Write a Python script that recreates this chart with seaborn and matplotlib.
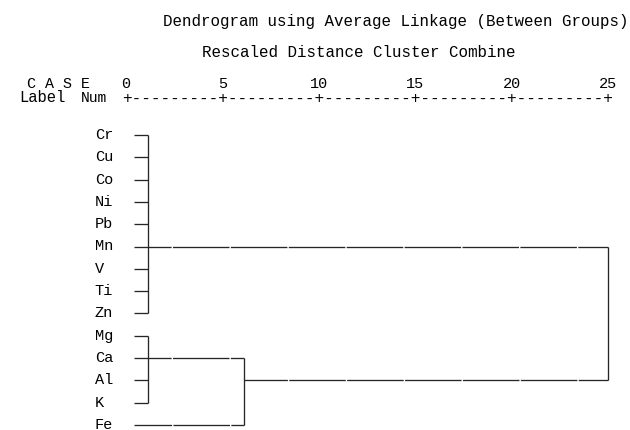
import numpy as np
import pandas as pd
import matplotlib
matplotlib.use("Agg")
import matplotlib.pyplot as plt
import seaborn as sns

# ---------------- data ----------------
labels = ["Cr", "Cu", "Co", "Ni", "Pb", "Mn", "V", "Ti", "Zn", "Mg", "Ca", "Al", "K", "Fe"]
scale_ticks = [0, 5, 10, 15, 20, 25]
merge_names = ["A", "B", "C", "D"]
merge_children = [
    ["Cr", "Cu", "Co", "Ni", "Pb", "Mn", "V", "Ti", "Zn"],
    ["Mg", "Ca", "Al", "K"],
    ["B", "Fe"],
    ["A", "C"],
]
merge_heights = [1.15, 1.15, 6.1, 25.0]
merge_rows = ["Mn", "Ca", "Al", "Mn"]   # row on which each cluster's line leaves
title = "Dendrogram using Average Linkage (Between Groups)"
subtitle = "Rescaled Distance Cluster Combine"
case_text = "C A S E"
label_text = "Label"
num_text = "Num"

# ---------------- layout / style ----------------
W, H, DPI = 630, 430, 100
PXU = 19.3      # pixels per distance unit
X0PX = 126      # pixel x of distance 0
Y0PX = 135      # pixel y of first row
PYR = 22.3      # pixels per row
LEAF_START = 0.4
LINE_COLOR = "#262626"
TEXT_COLOR = "#000000"
LW = 0.95
FONT = ["Liberation Mono", "DejaVu Sans Mono"]

sns.set_theme(style="white")
plt.rcParams["font.family"] = FONT
plt.rcParams["lines.scale_dashes"] = False

fig = plt.figure(figsize=(W / DPI, H / DPI), dpi=DPI)
ax = fig.add_axes([0, 0, 1, 1])
ax.set_xlim(-X0PX / PXU, (W - X0PX) / PXU)
ax.set_ylim((H - Y0PX) / PYR, -Y0PX / PYR)
ax.axis("off")

# ---------------- build segments ----------------
row_of = {lab: i for i, lab in enumerate(labels)}
pos = {lab: (LEAF_START, row_of[lab]) for lab in labels}
segs = []
sid = 0
for name, children, h, rlab in zip(merge_names, merge_children, merge_heights, merge_rows):
    ys = []
    for ch in children:
        cx, cy = pos[ch]
        segs.append({"seg": sid, "x": cx, "y": cy})
        segs.append({"seg": sid, "x": h, "y": cy})
        sid += 1
        ys.append(cy)
    segs.append({"seg": sid, "x": h, "y": min(ys)})
    segs.append({"seg": sid, "x": h, "y": max(ys)})
    sid += 1
    pos[name] = (h, row_of[rlab])
df = pd.DataFrame(segs)

sns.lineplot(data=df, x="x", y="y", units="seg", estimator=None, sort=False,
             color=LINE_COLOR, linewidth=LW, legend=False, ax=ax,
             solid_capstyle="butt", dash_capstyle="butt")

# tiny gaps in horizontal lines (like the text-mode line characters)
period_pt = 3 * PXU * 0.72
gap_pt = 1.4 * 0.72
on_pt = period_pt - gap_pt
gap_start_px = 171.3
for ln in ax.lines:
    xd, yd = ln.get_xdata(), ln.get_ydata()
    if len(yd) == 2 and yd[0] == yd[1]:
        start_px = X0PX + PXU * min(xd)
        t = (gap_start_px - start_px) * 0.72
        off = (on_pt - t) % period_pt
        ln.set_linestyle((off, (on_pt, gap_pt)))

# ---------------- text ----------------
def ftext(xpx, ypx, s, **kw):
    fig.text(xpx / W, 1 - ypx / H, s, color=TEXT_COLOR, **kw)

ftext(395.5, 26, title, ha="center", va="baseline", fontsize=11.4)
ftext(358.5, 57, subtitle, ha="center", va="baseline", fontsize=11.4)
ftext(58.5, 88, case_text, ha="center", va="baseline", fontsize=10.8)
ftext(42.5, 102, label_text, ha="center", va="baseline", fontsize=11.2)
ftext(94, 102, num_text, ha="center", va="baseline", fontsize=10.5)

ruler_row = (98.5 - Y0PX) / PYR
num_row = (88 - Y0PX) / PYR
ruler = "+" + ("-" * 9 + "+") * (len(scale_ticks) - 1)
char_px = (scale_ticks[1] - scale_ticks[0]) / 10 * PXU
ax.text((scale_ticks[0] + scale_ticks[-1]) / 2, ruler_row, ruler, ha="center", va="center",
        fontsize=char_px * 72 / DPI / 0.6, color=TEXT_COLOR)
for t in scale_ticks:
    ax.text(t, num_row, str(t), ha="center", va="baseline", fontsize=11.0, color=TEXT_COLOR)

for lab in labels:
    ax.text(-1.62, row_of[lab], lab, ha="left", va="center", fontsize=11.0, color=TEXT_COLOR)

fig.savefig("out.png", dpi=DPI, facecolor="white")
